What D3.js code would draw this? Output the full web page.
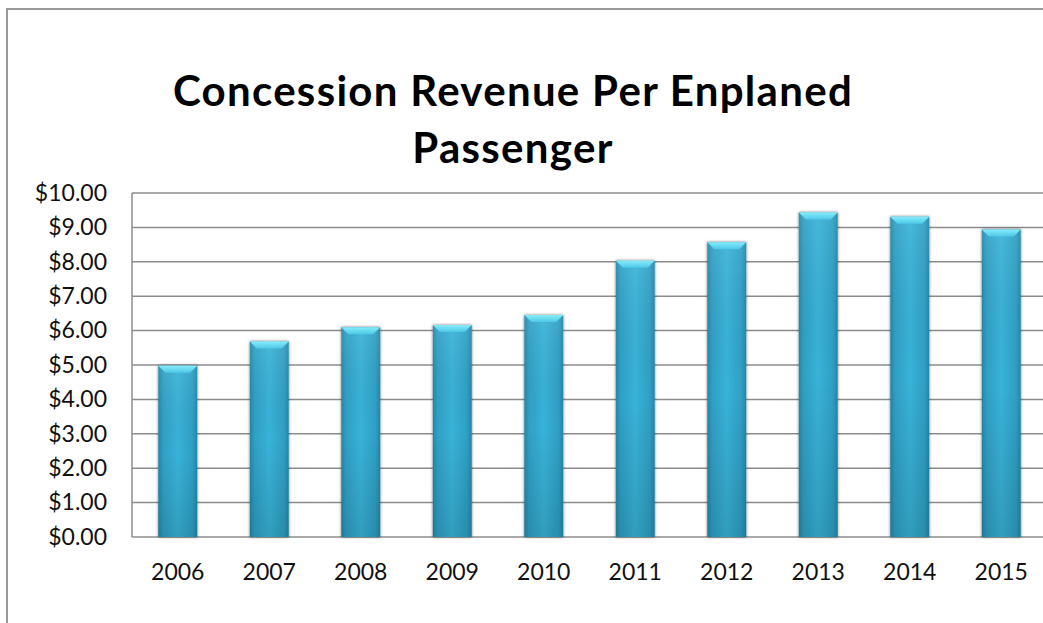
<!DOCTYPE html>
<html><head><meta charset="utf-8">
<script src="https://cdn.jsdelivr.net/npm/d3@7"></script>
<style>body{margin:0;background:#fff}svg{display:block}</style>
</head><body><svg id="c" width="1043" height="623"></svg>
<script>
const years = ["2006","2007","2008","2009","2010","2011","2012","2013","2014","2015"];
const revenue = [4.98, 5.68, 6.10, 6.16, 6.45, 8.03, 8.57, 9.43, 9.31, 8.94];
const yTicks = [0,1,2,3,4,5,6,7,8,9,10];
const titleLines = ["Concession Revenue Per Enplaned", "Passenger"];

const svg = d3.select("#c");
const W = 1043, H = 623;
const plot = {left: 132, right: 1047, top: 193, bottom: 537};
const font = "Lato, 'Open Sans', sans-serif";

const x = d3.scaleBand().domain(years).range([plot.left, plot.right]).paddingInner(0.575).paddingOuter(0.2875);
const y = d3.scaleLinear().domain([0, 10]).range([plot.bottom, plot.top]);

const defs = svg.append("defs");
const gH = defs.append("linearGradient").attr("id","barH").attr("x1","0").attr("x2","1").attr("y1","0").attr("y2","0");
[[0,"#2486a6"],[0.12,"#2f9fc4"],[0.5,"#38b3d8"],[0.88,"#2f9fc4"],[1,"#2486a6"]].forEach(s=>gH.append("stop").attr("offset",s[0]).attr("stop-color",s[1]));
const gV = defs.append("linearGradient").attr("id","barV").attr("x1","0").attr("x2","0").attr("y1","0").attr("y2","1");
[[0,"#ffffff",0.08],[0.5,"#000000",0.0],[1,"#000000",0.12]].forEach(s=>gV.append("stop").attr("offset",s[0]).attr("stop-color",s[1]).attr("stop-opacity",s[2]));
const gT = defs.append("linearGradient").attr("id","barT").attr("x1","0").attr("x2","0").attr("y1","0").attr("y2","1");
[[0,"#86ecfa"],[1,"#4cc8e8"]].forEach(s=>gT.append("stop").attr("offset",s[0]).attr("stop-color",s[1]));
const flt = defs.append("filter").attr("id","sh").attr("x","-30%").attr("y","-10%").attr("width","160%").attr("height","120%");
flt.append("feGaussianBlur").attr("in","SourceAlpha").attr("stdDeviation",1.6).attr("result","b");
flt.append("feComponentTransfer").attr("in","b").attr("result","o2").append("feFuncA").attr("type","linear").attr("slope",0.55);
const fm = flt.append("feMerge"); fm.append("feMergeNode").attr("in","o2"); fm.append("feMergeNode").attr("in","SourceGraphic");

svg.append("rect").attr("width",W).attr("height",H).attr("fill","#fff");
// outer frame
svg.append("path").attr("d",`M7,${H} L7,9 L${W},9`).attr("fill","none").attr("stroke","#9a9a9a").attr("stroke-width",2);

// gridlines
svg.append("g").selectAll("line").data(yTicks).join("line")
  .attr("x1",plot.left).attr("x2",W).attr("y1",d=>y(d)).attr("y2",d=>y(d))
  .attr("stroke","#8c8c8c").attr("stroke-width",1.5);
svg.append("line").attr("x1",plot.left).attr("x2",plot.left).attr("y1",plot.top).attr("y2",plot.bottom)
  .attr("stroke","#8c8c8c").attr("stroke-width",1.5);

// y axis labels
const yAxis = d3.axisLeft(y).tickValues(yTicks).tickSize(0).tickPadding(25).tickFormat(d=>"$"+d3.format(".2f")(d));
const ya = svg.append("g").attr("transform",`translate(${plot.left},0)`).call(yAxis);
ya.select(".domain").remove();
ya.selectAll("text").attr("font-family",font).attr("font-size",23).attr("fill","#111");

// x axis labels
const xAxis = d3.axisBottom(x).tickSize(0).tickPadding(27);
const xa = svg.append("g").attr("transform",`translate(0,${plot.bottom})`).call(xAxis);
xa.select(".domain").remove();
xa.selectAll("text").attr("font-family",font).attr("font-size",23).attr("fill","#111");

// bars
const bars = svg.append("g").selectAll("g").data(years.map((yr,i)=>({yr,v:revenue[i]}))).join("g").attr("filter","url(#sh)");
bars.append("rect").attr("x",d=>x(d.yr)).attr("width",x.bandwidth()).attr("y",d=>y(d.v)).attr("height",d=>plot.bottom-y(d.v)).attr("fill","url(#barH)");
bars.append("rect").attr("x",d=>x(d.yr)).attr("width",x.bandwidth()).attr("y",d=>y(d.v)).attr("height",d=>plot.bottom-y(d.v)).attr("fill","url(#barV)");
bars.append("path").attr("d",d=>{
  const x0=x(d.yr), w=x.bandwidth(), t=y(d.v), b=7;
  return `M${x0},${t} L${x0+w},${t} L${x0+w-b},${t+b} L${x0+b},${t+b} Z`;
}).attr("fill","url(#barT)");

// title
const title = svg.append("text").attr("text-anchor","middle").attr("font-family",font).attr("font-weight","bold").attr("font-size",42).attr("letter-spacing",1.3).attr("fill","#000");
title.selectAll("tspan").data(titleLines).join("tspan").attr("x",513).attr("y",(d,i)=>106+i*57).text(d=>d);
</script></body></html>
